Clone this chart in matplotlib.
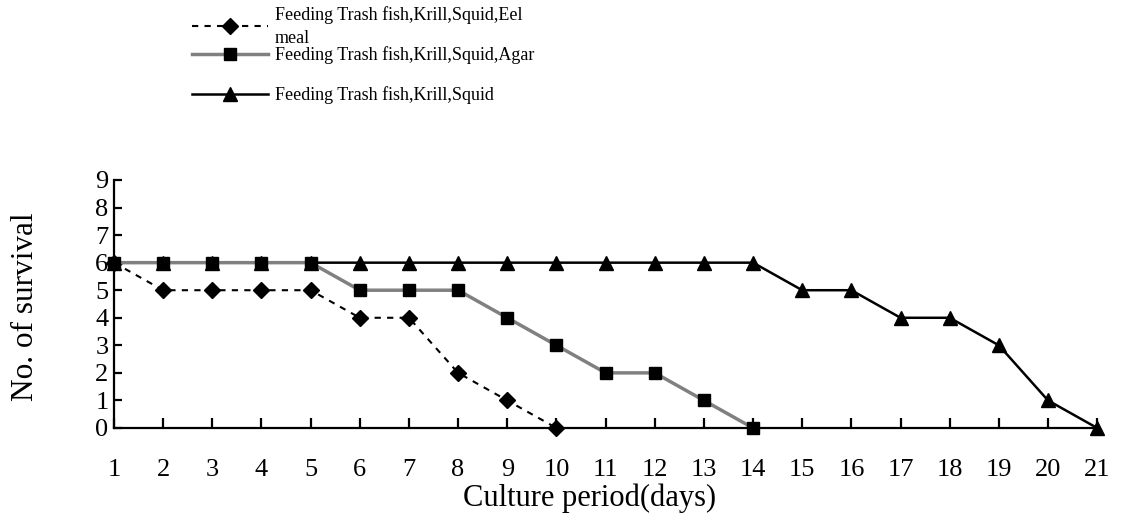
import matplotlib
matplotlib.use("Agg")
import matplotlib.pyplot as plt

# survival counts per culture day
days_eel = [1, 2, 3, 4, 5, 6, 7, 8, 9, 10]
surv_eel = [6, 5, 5, 5, 5, 4, 4, 2, 1, 0]

days_agar = [1, 2, 3, 4, 5, 6, 7, 8, 9, 10, 11, 12, 13, 14]
surv_agar = [6, 6, 6, 6, 6, 5, 5, 5, 4, 3, 2, 2, 1, 0]

days_squid = list(range(1, 22))
surv_squid = [6, 6, 6, 6, 6, 6, 6, 6, 6, 6, 6, 6, 6, 6, 5, 5, 4, 4, 3, 1, 0]

labels = ["Feeding Trash fish,Krill,Squid,Eel\nmeal",
          "Feeding Trash fish,Krill,Squid,Agar",
          "Feeding Trash fish,Krill,Squid"]

plt.rcParams['font.family'] = ['Liberation Serif', 'DejaVu Serif']

fig = plt.figure(figsize=(11.23, 5.28), dpi=100)
ax = fig.add_axes([0.1015, 0.1894, 0.8755, 0.4697])

l1, = ax.plot(days_eel, surv_eel, color='black', ls=(0, (3, 3)), lw=1.5,
              marker='D', ms=8.5, label=labels[0], zorder=3)
l2, = ax.plot(days_agar, surv_agar, color='#808080', ls='-', lw=2.5,
              marker='s', ms=9, mfc='black', mec='black', label=labels[1], zorder=4)
l3, = ax.plot(days_squid, surv_squid, color='black', ls='-', lw=1.8,
              marker='^', ms=9.5, label=labels[2], zorder=2)

ax.set_xlim(1, 21)
ax.set_ylim(0, 9)
ax.set_xticks(days_squid)
ax.set_yticks(range(0, 10))
ax.spines['top'].set_visible(False)
ax.spines['right'].set_visible(False)
for s in ['left', 'bottom']:
    ax.spines[s].set_linewidth(1.6)
ax.tick_params(axis='x', direction='in', length=7, width=1.6, pad=22, labelsize=19)
ax.tick_params(axis='y', direction='in', length=6, width=1.6, pad=4, labelsize=19)

ax.set_xlabel("Culture period(days)", fontsize=22)
ax.set_ylabel("No. of survival", fontsize=22.5)
ax.xaxis.set_label_coords(0.484, -0.225)
ax.yaxis.set_label_coords(-0.075, 0.49)

for ln in ax.lines:
    ln.set_clip_on(False)

leg_kw = dict(loc='upper left', frameon=False, fontsize=13, handlelength=4.2,
              handletextpad=0.4, labelspacing=0, numpoints=1,
              borderpad=0, borderaxespad=0)
leg1 = fig.legend(handles=[l1, l2], bbox_to_anchor=(0.171, 0.989), **leg_kw)
leg1.get_texts()[0].set_linespacing(1.45)
fig.legend(handles=[l3], bbox_to_anchor=(0.171, 0.837), **leg_kw)

fig.savefig("out.png", dpi=100)
